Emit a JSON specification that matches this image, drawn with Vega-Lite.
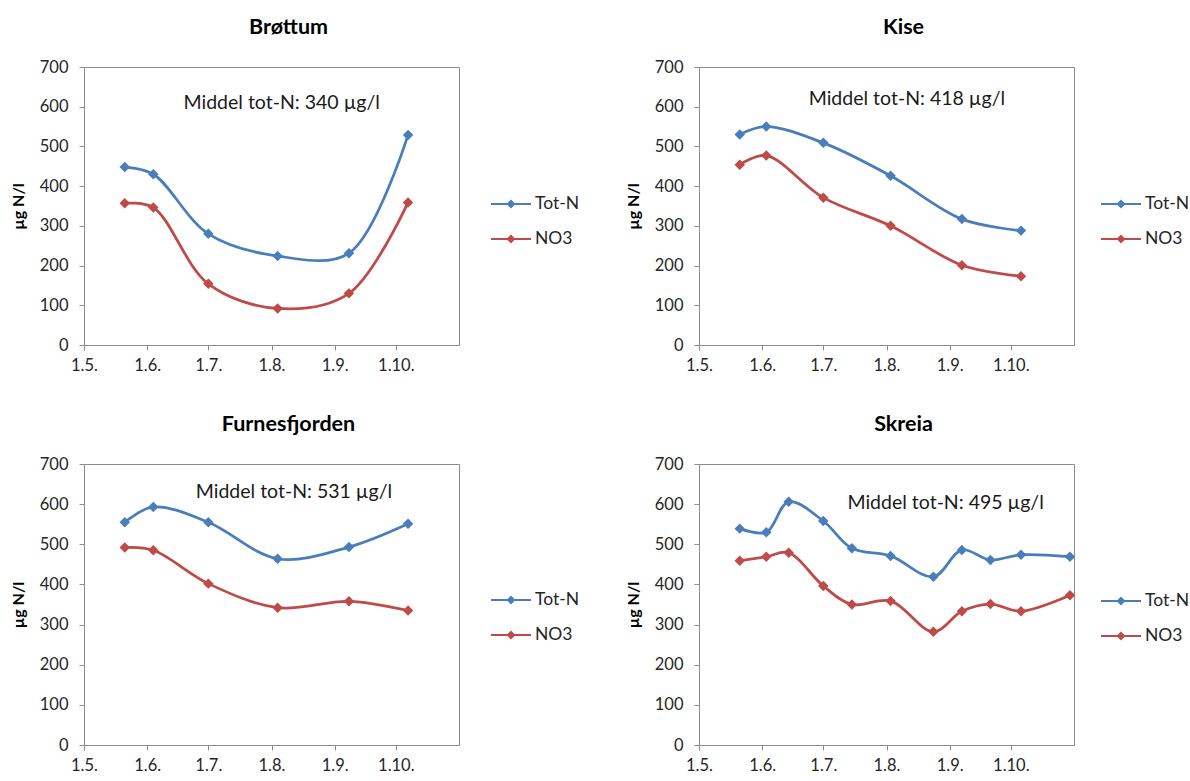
{
  "$schema": "https://vega.github.io/schema/vega-lite/v6.json",
  "background": "white",
  "padding": {"left": 9, "top": 16, "right": 0, "bottom": 0},
  "datasets": {
    "obs": [
      {"site": "Brøttum", "series": "Tot-N", "date": "2011-05-21", "value": 448},
      {"site": "Brøttum", "series": "Tot-N", "date": "2011-06-04", "value": 430},
      {"site": "Brøttum", "series": "Tot-N", "date": "2011-07-01", "value": 280},
      {"site": "Brøttum", "series": "Tot-N", "date": "2011-08-04", "value": 224},
      {"site": "Brøttum", "series": "Tot-N", "date": "2011-09-08", "value": 231},
      {"site": "Brøttum", "series": "Tot-N", "date": "2011-10-07", "value": 529},
      {"site": "Brøttum", "series": "NO3", "date": "2011-05-21", "value": 357},
      {"site": "Brøttum", "series": "NO3", "date": "2011-06-04", "value": 346},
      {"site": "Brøttum", "series": "NO3", "date": "2011-07-01", "value": 154},
      {"site": "Brøttum", "series": "NO3", "date": "2011-08-04", "value": 92},
      {"site": "Brøttum", "series": "NO3", "date": "2011-09-08", "value": 130},
      {"site": "Brøttum", "series": "NO3", "date": "2011-10-07", "value": 359},
      {"site": "Kise", "series": "Tot-N", "date": "2011-05-21", "value": 530},
      {"site": "Kise", "series": "Tot-N", "date": "2011-06-03", "value": 550},
      {"site": "Kise", "series": "Tot-N", "date": "2011-07-01", "value": 509},
      {"site": "Kise", "series": "Tot-N", "date": "2011-08-03", "value": 426},
      {"site": "Kise", "series": "Tot-N", "date": "2011-09-07", "value": 317},
      {"site": "Kise", "series": "Tot-N", "date": "2011-10-06", "value": 288},
      {"site": "Kise", "series": "NO3", "date": "2011-05-21", "value": 454},
      {"site": "Kise", "series": "NO3", "date": "2011-06-03", "value": 477},
      {"site": "Kise", "series": "NO3", "date": "2011-07-01", "value": 371},
      {"site": "Kise", "series": "NO3", "date": "2011-08-03", "value": 300},
      {"site": "Kise", "series": "NO3", "date": "2011-09-07", "value": 201},
      {"site": "Kise", "series": "NO3", "date": "2011-10-06", "value": 173},
      {"site": "Furnesfjorden", "series": "Tot-N", "date": "2011-05-21", "value": 555},
      {"site": "Furnesfjorden", "series": "Tot-N", "date": "2011-06-04", "value": 593},
      {"site": "Furnesfjorden", "series": "Tot-N", "date": "2011-07-01", "value": 555},
      {"site": "Furnesfjorden", "series": "Tot-N", "date": "2011-08-04", "value": 464},
      {"site": "Furnesfjorden", "series": "Tot-N", "date": "2011-09-08", "value": 493},
      {"site": "Furnesfjorden", "series": "Tot-N", "date": "2011-10-07", "value": 551},
      {"site": "Furnesfjorden", "series": "NO3", "date": "2011-05-21", "value": 492},
      {"site": "Furnesfjorden", "series": "NO3", "date": "2011-06-04", "value": 485},
      {"site": "Furnesfjorden", "series": "NO3", "date": "2011-07-01", "value": 402},
      {"site": "Furnesfjorden", "series": "NO3", "date": "2011-08-04", "value": 342},
      {"site": "Furnesfjorden", "series": "NO3", "date": "2011-09-08", "value": 358},
      {"site": "Furnesfjorden", "series": "NO3", "date": "2011-10-07", "value": 335},
      {"site": "Skreia", "series": "Tot-N", "date": "2011-05-21", "value": 539},
      {"site": "Skreia", "series": "Tot-N", "date": "2011-06-03", "value": 530},
      {"site": "Skreia", "series": "Tot-N", "date": "2011-06-14", "value": 606},
      {"site": "Skreia", "series": "Tot-N", "date": "2011-07-01", "value": 558},
      {"site": "Skreia", "series": "Tot-N", "date": "2011-07-15", "value": 490},
      {"site": "Skreia", "series": "Tot-N", "date": "2011-08-03", "value": 471},
      {"site": "Skreia", "series": "Tot-N", "date": "2011-08-24", "value": 419},
      {"site": "Skreia", "series": "Tot-N", "date": "2011-09-07", "value": 486},
      {"site": "Skreia", "series": "Tot-N", "date": "2011-09-21", "value": 461},
      {"site": "Skreia", "series": "Tot-N", "date": "2011-10-06", "value": 474},
      {"site": "Skreia", "series": "Tot-N", "date": "2011-10-30", "value": 469},
      {"site": "Skreia", "series": "NO3", "date": "2011-05-21", "value": 459},
      {"site": "Skreia", "series": "NO3", "date": "2011-06-03", "value": 469},
      {"site": "Skreia", "series": "NO3", "date": "2011-06-14", "value": 479},
      {"site": "Skreia", "series": "NO3", "date": "2011-07-01", "value": 396},
      {"site": "Skreia", "series": "NO3", "date": "2011-07-15", "value": 350},
      {"site": "Skreia", "series": "NO3", "date": "2011-08-03", "value": 359},
      {"site": "Skreia", "series": "NO3", "date": "2011-08-24", "value": 282},
      {"site": "Skreia", "series": "NO3", "date": "2011-09-07", "value": 333},
      {"site": "Skreia", "series": "NO3", "date": "2011-09-21", "value": 351},
      {"site": "Skreia", "series": "NO3", "date": "2011-10-06", "value": 333},
      {"site": "Skreia", "series": "NO3", "date": "2011-10-30", "value": 373}
    ],
    "notes": [
      {"site": "Brøttum", "date": "2011-08-06", "value": 609, "label": "Middel tot-N:  340 µg/l"},
      {"site": "Kise", "date": "2011-08-11", "value": 620, "label": "Middel tot-N: 418 µg/l"},
      {"site": "Furnesfjorden", "date": "2011-08-12", "value": 630, "label": "Middel tot-N: 531 µg/l"},
      {"site": "Skreia", "date": "2011-08-30", "value": 602, "label": "Middel tot-N: 495 µg/l"}
    ]
  },
  "columns": 2,
  "spacing": {"row": 39, "column": 43},
  "resolve": {"scale": {"color": "independent", "x": "independent", "y": "independent"}},
  "concat": [
    {
      "title": {"text": "Brøttum", "dx": 17},
      "width": 375, "height": 278,
      "layer": [
        {
          "data": {"name": "obs"},
          "transform": [{"filter": "datum.site === 'Brøttum'"}],
          "mark": {"type": "line", "interpolate": "catmull-rom", "strokeWidth": 2.75, "point": {"shape": "diamond", "filled": true, "size": 110, "opacity": 1}},
          "encoding": {
            "x": {"field": "date", "type": "temporal", "scale": {"type": "utc", "domain": [{"year": 2011, "month": 5, "date": 1, "utc": true}, {"year": 2011, "month": 11, "date": 1, "utc": true}]}, "axis": {"title": null, "format": "%-d.%-m.", "tickCount": 12, "values": [{"year": 2011, "month": 5, "date": 1, "utc": true}, {"year": 2011, "month": 6, "date": 1, "utc": true}, {"year": 2011, "month": 7, "date": 1, "utc": true}, {"year": 2011, "month": 8, "date": 1, "utc": true}, {"year": 2011, "month": 9, "date": 1, "utc": true}, {"year": 2011, "month": 10, "date": 1, "utc": true}]}},
            "y": {"field": "value", "type": "quantitative", "scale": {"domain": [0, 700]}, "axis": {"title": "µg N/l", "tickCount": 10, "values": [0, 100, 200, 300, 400, 500, 600, 700]}},
            "color": {"field": "series", "type": "nominal", "scale": {"domain": ["Tot-N", "NO3"], "range": ["#4A7EBB", "#BE4B48"]}, "legend": {"legendX": 406, "legendY": 126}}
          }
        },
        {
          "data": {"name": "notes"},
          "transform": [{"filter": "datum.site === 'Brøttum'"}],
          "mark": {"type": "text", "fontSize": 19.5, "color": "#1a1a1a"},
          "encoding": {
            "x": {"field": "date", "type": "temporal"},
            "y": {"field": "value", "type": "quantitative"},
            "text": {"field": "label"}
          }
        }
      ]
    },
    {
      "title": {"text": "Kise", "dx": 17},
      "width": 375, "height": 278,
      "layer": [
        {
          "data": {"name": "obs"},
          "transform": [{"filter": "datum.site === 'Kise'"}],
          "mark": {"type": "line", "interpolate": "catmull-rom", "strokeWidth": 2.75, "point": {"shape": "diamond", "filled": true, "size": 110, "opacity": 1}},
          "encoding": {
            "x": {"field": "date", "type": "temporal", "scale": {"type": "utc", "domain": [{"year": 2011, "month": 5, "date": 1, "utc": true}, {"year": 2011, "month": 11, "date": 1, "utc": true}]}, "axis": {"title": null, "format": "%-d.%-m.", "tickCount": 12, "values": [{"year": 2011, "month": 5, "date": 1, "utc": true}, {"year": 2011, "month": 6, "date": 1, "utc": true}, {"year": 2011, "month": 7, "date": 1, "utc": true}, {"year": 2011, "month": 8, "date": 1, "utc": true}, {"year": 2011, "month": 9, "date": 1, "utc": true}, {"year": 2011, "month": 10, "date": 1, "utc": true}]}},
            "y": {"field": "value", "type": "quantitative", "scale": {"domain": [0, 700]}, "axis": {"title": "µg N/l", "tickCount": 10, "values": [0, 100, 200, 300, 400, 500, 600, 700]}},
            "color": {"field": "series", "type": "nominal", "scale": {"domain": ["Tot-N", "NO3"], "range": ["#4A7EBB", "#BE4B48"]}, "legend": {"legendX": 401, "legendY": 126}}
          }
        },
        {
          "data": {"name": "notes"},
          "transform": [{"filter": "datum.site === 'Kise'"}],
          "mark": {"type": "text", "fontSize": 19.5, "color": "#1a1a1a"},
          "encoding": {
            "x": {"field": "date", "type": "temporal"},
            "y": {"field": "value", "type": "quantitative"},
            "text": {"field": "label"}
          }
        }
      ]
    },
    {
      "title": {"text": "Furnesfjorden", "dx": 17},
      "width": 375, "height": 281,
      "layer": [
        {
          "data": {"name": "obs"},
          "transform": [{"filter": "datum.site === 'Furnesfjorden'"}],
          "mark": {"type": "line", "interpolate": "catmull-rom", "strokeWidth": 2.75, "point": {"shape": "diamond", "filled": true, "size": 110, "opacity": 1}},
          "encoding": {
            "x": {"field": "date", "type": "temporal", "scale": {"type": "utc", "domain": [{"year": 2011, "month": 5, "date": 1, "utc": true}, {"year": 2011, "month": 11, "date": 1, "utc": true}]}, "axis": {"title": null, "format": "%-d.%-m.", "tickCount": 12, "values": [{"year": 2011, "month": 5, "date": 1, "utc": true}, {"year": 2011, "month": 6, "date": 1, "utc": true}, {"year": 2011, "month": 7, "date": 1, "utc": true}, {"year": 2011, "month": 8, "date": 1, "utc": true}, {"year": 2011, "month": 9, "date": 1, "utc": true}, {"year": 2011, "month": 10, "date": 1, "utc": true}]}},
            "y": {"field": "value", "type": "quantitative", "scale": {"domain": [0, 700]}, "axis": {"title": "µg N/l", "tickCount": 10, "values": [0, 100, 200, 300, 400, 500, 600, 700]}},
            "color": {"field": "series", "type": "nominal", "scale": {"domain": ["Tot-N", "NO3"], "range": ["#4A7EBB", "#BE4B48"]}, "legend": {"legendX": 406, "legendY": 125}}
          }
        },
        {
          "data": {"name": "notes"},
          "transform": [{"filter": "datum.site === 'Furnesfjorden'"}],
          "mark": {"type": "text", "fontSize": 19.5, "color": "#1a1a1a"},
          "encoding": {
            "x": {"field": "date", "type": "temporal"},
            "y": {"field": "value", "type": "quantitative"},
            "text": {"field": "label"}
          }
        }
      ]
    },
    {
      "title": {"text": "Skreia", "dx": 17},
      "width": 375, "height": 281,
      "layer": [
        {
          "data": {"name": "obs"},
          "transform": [{"filter": "datum.site === 'Skreia'"}],
          "mark": {"type": "line", "interpolate": "catmull-rom", "strokeWidth": 2.75, "point": {"shape": "diamond", "filled": true, "size": 110, "opacity": 1}},
          "encoding": {
            "x": {"field": "date", "type": "temporal", "scale": {"type": "utc", "domain": [{"year": 2011, "month": 5, "date": 1, "utc": true}, {"year": 2011, "month": 11, "date": 1, "utc": true}]}, "axis": {"title": null, "format": "%-d.%-m.", "tickCount": 12, "values": [{"year": 2011, "month": 5, "date": 1, "utc": true}, {"year": 2011, "month": 6, "date": 1, "utc": true}, {"year": 2011, "month": 7, "date": 1, "utc": true}, {"year": 2011, "month": 8, "date": 1, "utc": true}, {"year": 2011, "month": 9, "date": 1, "utc": true}, {"year": 2011, "month": 10, "date": 1, "utc": true}]}},
            "y": {"field": "value", "type": "quantitative", "scale": {"domain": [0, 700]}, "axis": {"title": "µg N/l", "tickCount": 10, "values": [0, 100, 200, 300, 400, 500, 600, 700]}},
            "color": {"field": "series", "type": "nominal", "scale": {"domain": ["Tot-N", "NO3"], "range": ["#4A7EBB", "#BE4B48"]}, "legend": {"legendX": 401, "legendY": 126}}
          }
        },
        {
          "data": {"name": "notes"},
          "transform": [{"filter": "datum.site === 'Skreia'"}],
          "mark": {"type": "text", "fontSize": 19.5, "color": "#1a1a1a"},
          "encoding": {
            "x": {"field": "date", "type": "temporal"},
            "y": {"field": "value", "type": "quantitative"},
            "text": {"field": "label"}
          }
        }
      ]
    }
  ],
  "config": {
    "font": "Lato",
    "view": {"stroke": "#8c8c8c", "strokeWidth": 1},
    "title": {"fontSize": 21.5, "fontWeight": "bold", "anchor": "middle", "frame": "group", "offset": 21, "color": "#000000"},
    "axis": {"grid": false, "labelOverlap": false, "labelBound": false, "labelFlush": false, "domainColor": "#8c8c8c", "tickColor": "#8c8c8c", "tickSize": 5, "labelColor": "#262626", "labelFontSize": 16.5, "titleFontSize": 16, "titleFontWeight": "bold", "titleColor": "#000000", "titlePadding": 13},
    "axisY": {"labelPadding": 11},
    "axisX": {"labelPadding": 7},
    "legend": {
      "title": null,
      "orient": "none",
      "padding": 0,
      "symbolType": "M-1,0H3M0.7,0L1,-0.3L1.3,0L1,0.3Z",
      "symbolSize": 400,
      "symbolStrokeWidth": 2,
      "symbolOpacity": 1,
      "labelFontSize": 17.5,
      "labelColor": "#262626",
      "labelOffset": 23,
      "rowPadding": 15,
      "encode": {"symbols": {"update": {
        "fill": {"signal": "datum.value === 'Tot-N' ? '#4A7EBB' : '#BE4B48'"},
        "stroke": {"signal": "datum.value === 'Tot-N' ? '#4A7EBB' : '#BE4B48'"}
      }}}
    }
  }
}
